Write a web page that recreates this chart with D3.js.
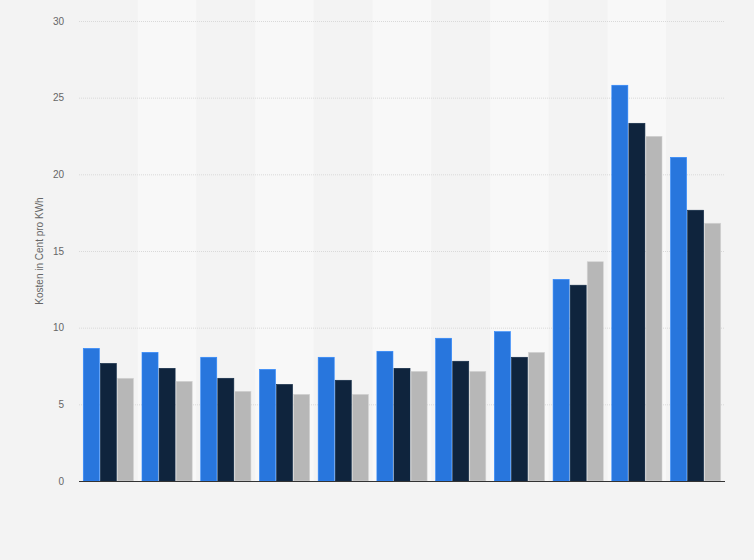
<!DOCTYPE html>
<html>
<head>
<meta charset="utf-8">
<script src="https://cdn.jsdelivr.net/npm/d3@7"></script>
<style>
  html, body { margin: 0; padding: 0; background: #f3f3f3; }
  svg { display: block; font-family: "Liberation Sans", Arial, sans-serif; }
</style>
</head>
<body>
<svg id="chart" width="754" height="560"></svg>
<script>
// Data
const categories = ["1", "2", "3", "4", "5", "6", "7", "8", "9", "10", "11"];
const seriesNames = ["Serie 1", "Serie 2", "Serie 3"];
const series1 = [8.65, 8.39, 8.07, 7.28, 8.07, 8.46, 9.31, 9.74, 13.15, 25.81, 21.11];
const series2 = [7.67, 7.35, 6.70, 6.30, 6.57, 7.35, 7.81, 8.07, 12.77, 23.33, 17.66];
const series3 = [6.70, 6.50, 5.85, 5.65, 5.65, 7.15, 7.15, 8.39, 14.30, 22.48, 16.81];
const yTicks = [0, 5, 10, 15, 20, 25, 30];
const yTitle = "Kosten in Cent pro KWh";
const colors = ["#2876dd", "#0f243d", "#b7b7b7"];

const allSeries = [series1, series2, series3];
const svg = d3.select("#chart");
const margin = { left: 79, right: 29, top: 21, bottom: 79 };
const W = 754, H = 560;
const x0 = d3.scaleBand().domain(categories).range([margin.left, W - margin.right]).paddingInner(0).paddingOuter(0);
const x1 = d3.scaleBand().domain(seriesNames).range([0, x0.bandwidth()]).paddingInner(0.06).paddingOuter(0.25);
const y = d3.scaleLinear().domain([0, 30]).range([H - margin.bottom, margin.top]);

// alternating column bands
svg.append("g").selectAll("rect").data(categories).join("rect")
  .attr("x", d => x0(d)).attr("y", 0)
  .attr("width", x0.bandwidth()).attr("height", H - margin.bottom)
  .attr("fill", (d, i) => i % 2 === 1 ? "#f8f8f8" : "#f3f3f3");

// gridlines
svg.append("g").selectAll("line").data(yTicks.filter(t => t > 0)).join("line")
  .attr("x1", margin.left).attr("x2", W - margin.right)
  .attr("y1", d => y(d) + 0.5).attr("y2", d => y(d) + 0.5)
  .attr("stroke", "#d9d9d9").attr("stroke-width", 1).attr("stroke-dasharray", "1,1");

// y axis labels
const yAxis = d3.axisLeft(y).tickValues(yTicks).tickSize(0).tickPadding(0);
const ga = svg.append("g").attr("transform", `translate(${margin.left - 15},0)`).call(yAxis);
ga.select(".domain").remove();
ga.selectAll("text").attr("fill", "#666").attr("font-size", "10px")
  .attr("font-family", "Liberation Sans, Arial, sans-serif");

// y title
svg.append("text")
  .attr("transform", `translate(43,${(y(0) + y(30)) / 2}) rotate(-90)`)
  .attr("text-anchor", "middle").attr("fill", "#666").attr("font-size", "10px")
  .text(yTitle);

// bars
const groups = svg.append("g").selectAll("g").data(categories).join("g")
  .attr("transform", d => `translate(${x0(d)},0)`);
groups.selectAll("rect")
  .data((c, i) => seriesNames.map((s, k) => ({ s, v: allSeries[k][i], k })))
  .join("rect")
  .attr("x", d => x1(d.s))
  .attr("width", x1.bandwidth())
  .attr("y", d => y(d.v))
  .attr("height", d => y(0) - y(d.v))
  .attr("fill", d => colors[d.k])
  .attr("stroke", d => d3.color(colors[d.k]).brighter(0.4))
  .attr("stroke-width", 0.6);

// baseline
svg.append("line")
  .attr("x1", margin.left).attr("x2", W - margin.right)
  .attr("y1", y(0) + 0.5).attr("y2", y(0) + 0.5)
  .attr("stroke", "#333").attr("stroke-width", 1.2);
</script>
</body>
</html>
